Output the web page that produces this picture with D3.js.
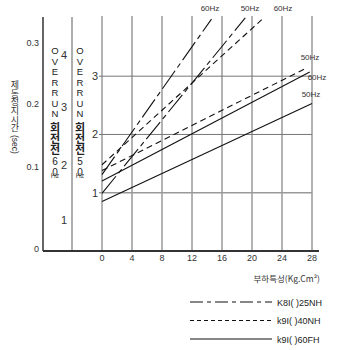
<!DOCTYPE html>
<html><head><meta charset="utf-8">
<script src="https://cdn.jsdelivr.net/npm/d3@7/dist/d3.min.js"></script>
<style>
html,body{margin:0;padding:0;background:#fff;}
svg{display:block;font-family:"Liberation Sans",Arial,sans-serif;}
.vt{writing-mode:vertical-rl;text-orientation:upright;}
</style></head>
<body>
<svg id="c" width="341" height="350"></svg>
<script>
// ---- data ----
const xTicks = [0,4,8,12,16,20,24,28];
const yTicks = [1,2,3];
const secTicks = [0,0.1,0.2,0.3];
const secLabels = ["0","0.1","0.2","0.3"];
const over60Ticks = [1,2,3,4];
const seriesNames = ["K8I( )25NH","k9I( )40NH","k9I( )60FH"];
const lineFreq = ["60Hz","50Hz","60Hz","50Hz","60Hz","50Hz"];
const lineSeries = [0,0,1,1,2,2];
const lineX0 = [0,0,0,0,0,0];
const lineY0 = [1.31,0.99,1.48,1.38,1.20,0.85];
const lineX1 = [14.6,19.1,21.3,27.1,27.7,28];
const lineY1 = [3.98,4.0,3.97,3.13,3.07,2.53];
const yTitleK = "제동정지시간";
const yTitleU = "(sec)";
const overWord = "OVERRUN";
const overK = "회전전";
const over60Num = "60";
const over50Num = "50";
const xTitle = "부하특성(Kg.Cm²)";

const svg = d3.select("#c");
const x = d3.scaleLinear().domain([0,28]).range([102,312]);
const y = d3.scaleLinear().domain([0,4.05]).range([251,15]);
const ySec = d3.scaleLinear().domain([0,0.1,0.2,0.3]).range([248,166,103,42]);
const yOver = d3.scaleLinear().domain([1,2,3,4]).range([220,165,107,55]);

const dashes = ["22,4,5,4","6,4",null];
const legendDash = ["13,4,4,4","4,3",null];

// vertical grid
const gridTop = 16;
svg.append("g").selectAll("line").data(xTicks).join("line")
  .attr("x1",d=>x(d)).attr("x2",d=>x(d)).attr("y1",gridTop).attr("y2",y(0))
  .attr("stroke",d=>(d===0||d===20)?"#b4b4b4":(d===28?"#999":"#666"))
  .attr("stroke-width",d=>(d===0||d===20)?2:(d===28?1.5:1));
// horizontal grid
svg.append("g").selectAll("line").data(yTicks).join("line")
  .attr("x1",99).attr("x2",x(28)).attr("y1",d=>y(d)).attr("y2",d=>y(d))
  .attr("stroke",d=>d===1?"#999":"#777").attr("stroke-width",d=>d===1?1.5:1);

// left axis lines
svg.append("line").attr("x1",43).attr("x2",43).attr("y1",17).attr("y2",y(0))
  .attr("stroke","#333").attr("stroke-width",1.5);
svg.append("line").attr("x1",72).attr("x2",72).attr("y1",17).attr("y2",y(0))
  .attr("stroke","#777").attr("stroke-width",1.2);
// bottom axis
svg.append("line").attr("x1",43).attr("x2",319).attr("y1",y(0)).attr("y2",y(0))
  .attr("stroke","#333").attr("stroke-width",2);

// x tick labels
svg.append("g").selectAll("text").data(xTicks).join("text")
  .attr("x",d=>x(d)).attr("y",261).attr("text-anchor","middle")
  .attr("font-size",9).attr("fill","#333").text(d=>d);
// y tick labels (plot)
svg.append("g").selectAll("text").data(yTicks).join("text")
  .attr("x",98).attr("y",d=>y(d)+4).attr("text-anchor","end")
  .attr("font-size",11).attr("fill","#333").text(d=>d);
// sec labels
svg.append("g").selectAll("text").data(secTicks).join("text")
  .attr("x",39).attr("y",d=>ySec(d)+3.5).attr("text-anchor","end")
  .attr("font-size",9).attr("fill","#333").text((d,i)=>secLabels[i]);
// over60 labels
svg.append("g").selectAll("text").data(over60Ticks).join("text")
  .attr("x",64).attr("y",d=>yOver(d)+4).attr("text-anchor","middle")
  .attr("font-size",11).attr("fill","#333").text(d=>d);

// vertical OVERRUN texts (single text element each, upright vertical writing)
function vcol(cx, num){
  const t = svg.append("text").attr("class","vt").attr("x",cx).attr("y",45)
    .attr("fill","#222");
  t.append("tspan").attr("font-size",9.5).attr("font-family","'Liberation Sans',Arial,sans-serif")
    .attr("letter-spacing",-0.5).text(overWord);
  t.append("tspan").attr("font-size",11).attr("font-weight","bold")
    .attr("font-family","'Noto Sans CJK KR',sans-serif").attr("dy",3).text(overK);
  t.append("tspan").attr("font-size",10).attr("font-family","'Liberation Sans',Arial,sans-serif")
    .attr("dy",1).text(num);
  svg.append("text").attr("x",cx).attr("y",178).attr("text-anchor","middle")
    .attr("font-size",7).attr("fill","#444").text("Hz");
}
vcol(55, over60Num);
vcol(80, over50Num);

// y title vertical: Korean upright (vertical writing), (sec) rotated
svg.append("text").attr("class","vt").attr("x",15).attr("y",80).attr("fill","#333")
  .attr("font-size",9).attr("letter-spacing",-0.3)
  .attr("font-family","'Noto Sans CJK KR',sans-serif").text(yTitleK);
svg.append("text").attr("transform","translate(12,135) rotate(90)")
  .attr("font-size",8.5).attr("fill","#333").text(yTitleU);

// series lines
svg.append("g").selectAll("line").data(lineY0).join("line")
  .attr("x1",(d,i)=>x(lineX0[i])).attr("y1",d=>y(d))
  .attr("x2",(d,i)=>x(lineX1[i])).attr("y2",(d,i)=>y(lineY1[i]))
  .attr("stroke","#111").attr("stroke-width",1.1)
  .attr("stroke-dasharray",(d,i)=>dashes[lineSeries[i]]);

// line frequency labels
const labelPos = [[210,11],[250,11],[283,11],[310,60],[317,80],[311,97]];
svg.append("g").selectAll("text").data(lineFreq).join("text")
  .attr("x",(d,i)=>labelPos[i][0]).attr("y",(d,i)=>labelPos[i][1])
  .attr("text-anchor","middle").attr("font-size",8).attr("fill","#333").text(d=>d);

// x title
svg.append("text").attr("x",320).attr("y",282).attr("text-anchor","end")
  .attr("font-size",8.5).attr("fill","#333")
  .attr("font-family","'Noto Sans CJK KR','Liberation Sans',sans-serif").text(xTitle);

// legend
const lg = svg.append("g").selectAll("g").data(seriesNames).join("g")
  .attr("transform",(d,i)=>`translate(0,${302+i*18.5})`);
lg.append("line").attr("x1",190).attr("x2",272).attr("y1",0).attr("y2",0)
  .attr("stroke","#111").attr("stroke-width",1.1)
  .attr("stroke-dasharray",(d,i)=>legendDash[i]);
lg.append("text").attr("x",277).attr("y",3.5).attr("font-size",9).attr("fill","#222").text(d=>d);
</script>
</body></html>
